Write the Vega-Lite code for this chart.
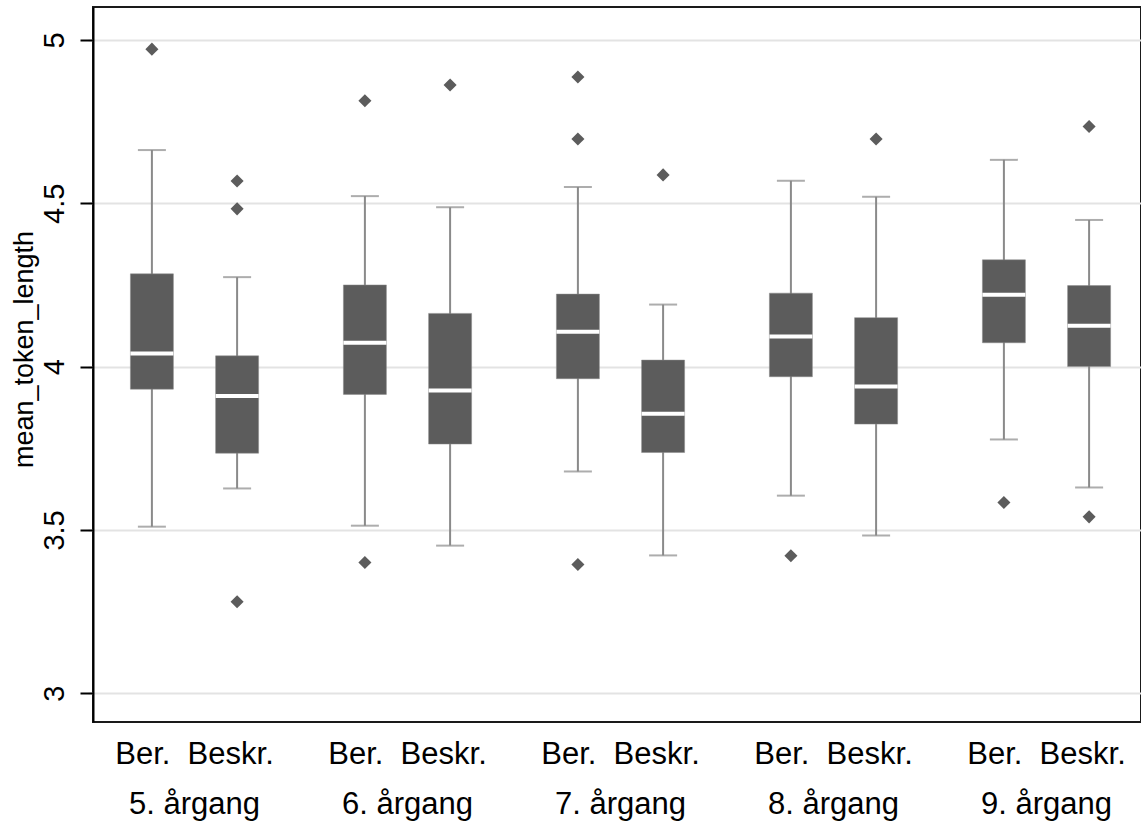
{
  "$schema": "https://vega.github.io/schema/vega-lite/v6.json",
  "width": 1048,
  "height": 715,
  "autosize": "none",
  "padding": {"left": 93, "top": 7, "right": 0, "bottom": 100},
  "background": "white",
  "config": {
    "view": {"stroke": "#1a1a1a", "strokeWidth": 2},
    "font": "Liberation Sans",
    "axis": {"labelFont": "Liberation Sans", "titleFont": "Liberation Sans", "labelColor": "#000000", "titleColor": "#000000"}
  },
  "datasets": {
    "boxes": [
      {"group": "5. årgang", "type": "Ber.", "lower": 3.510, "q1": 3.931, "median": 4.040, "q3": 4.284, "upper": 4.663},
      {"group": "5. årgang", "type": "Beskr.", "lower": 3.627, "q1": 3.735, "median": 3.910, "q3": 4.033, "upper": 4.274},
      {"group": "6. årgang", "type": "Ber.", "lower": 3.513, "q1": 3.915, "median": 4.073, "q3": 4.250, "upper": 4.522},
      {"group": "6. årgang", "type": "Beskr.", "lower": 3.452, "q1": 3.763, "median": 3.927, "q3": 4.163, "upper": 4.488},
      {"group": "7. årgang", "type": "Ber.", "lower": 3.679, "q1": 3.963, "median": 4.107, "q3": 4.222, "upper": 4.550},
      {"group": "7. årgang", "type": "Beskr.", "lower": 3.422, "q1": 3.737, "median": 3.856, "q3": 4.020, "upper": 4.190},
      {"group": "8. årgang", "type": "Ber.", "lower": 3.605, "q1": 3.969, "median": 4.092, "q3": 4.225, "upper": 4.569},
      {"group": "8. årgang", "type": "Beskr.", "lower": 3.483, "q1": 3.824, "median": 3.939, "q3": 4.150, "upper": 4.520},
      {"group": "9. årgang", "type": "Ber.", "lower": 3.777, "q1": 4.073, "median": 4.220, "q3": 4.327, "upper": 4.633},
      {"group": "9. årgang", "type": "Beskr.", "lower": 3.630, "q1": 4.000, "median": 4.125, "q3": 4.248, "upper": 4.449}
    ],
    "outliers": [
      {"group": "5. årgang", "type": "Ber.", "value": 4.972},
      {"group": "5. årgang", "type": "Beskr.", "value": 4.568},
      {"group": "5. årgang", "type": "Beskr.", "value": 4.483},
      {"group": "5. årgang", "type": "Beskr.", "value": 3.280},
      {"group": "6. årgang", "type": "Ber.", "value": 4.814},
      {"group": "6. årgang", "type": "Ber.", "value": 3.400},
      {"group": "6. årgang", "type": "Beskr.", "value": 4.862},
      {"group": "7. årgang", "type": "Ber.", "value": 4.887},
      {"group": "7. årgang", "type": "Ber.", "value": 4.697},
      {"group": "7. årgang", "type": "Ber.", "value": 3.394},
      {"group": "7. årgang", "type": "Beskr.", "value": 4.587},
      {"group": "8. årgang", "type": "Ber.", "value": 3.421},
      {"group": "8. årgang", "type": "Beskr.", "value": 4.697},
      {"group": "9. årgang", "type": "Ber.", "value": 3.584},
      {"group": "9. årgang", "type": "Beskr.", "value": 4.735},
      {"group": "9. årgang", "type": "Beskr.", "value": 3.540}
    ]
  },
  "encoding": {
    "x": {
      "field": "group",
      "type": "nominal",
      "sort": ["5. årgang", "6. årgang", "7. årgang", "8. årgang", "9. årgang"],
      "scale": {"domain": ["5. årgang", "6. årgang", "7. årgang", "8. årgang", "9. årgang"], "range": [-5, 1060], "paddingInner": 0, "paddingOuter": 0},
      "axis": {
        "title": null,
        "orient": "bottom",
        "domain": false,
        "ticks": false,
        "tickSize": 0,
        "grid": false,
        "labelAngle": 0,
        "labelFontSize": 31,
        "labelLineHeight": 50,
        "labelPadding": 17,
        "labelDx": 3,
        "labelBaseline": "top",
        "labelAlign": "center",
        "labelLimit": 400,
        "labelExpr": "['Ber.\u00a0\u00a0Beskr.', datum.label]"
      }
    },
    "xOffset": {
      "field": "type",
      "type": "nominal",
      "scale": {"domain": ["Ber.", "Beskr."], "paddingInner": 0, "paddingOuter": 0.25}
    }
  },
  "layer": [
    {
      "data": {"name": "boxes"},
      "mark": {"type": "rule", "color": "#8a8a8a", "strokeWidth": 2},
      "encoding": {
        "y": {
          "field": "lower",
          "type": "quantitative",
          "scale": {"domain": [2.912, 5.101], "nice": false, "zero": false},
          "axis": {
            "title": "mean_token_length",
            "values": [3, 3.5, 4, 4.5, 5],
            "format": "~g",
            "grid": true,
            "gridColor": "#e3e3e3",
            "gridWidth": 2,
            "domain": true,
            "domainColor": "#000000",
            "domainWidth": 2,
            "ticks": true,
            "tickSize": 13,
            "tickColor": "#000000",
            "tickWidth": 2,
            "labelAngle": -90,
            "labelAlign": "center",
            "labelBaseline": "alphabetic",
            "labelFontSize": 29,
            "labelPadding": 17,
            "titleFontSize": 27,
            "titleFontWeight": "normal",
            "titleAngle": -90,
            "titleAlign": "center",
            "titleBaseline": "alphabetic",
            "titleX": -61,
            "titleY": 342
          }
        },
        "y2": {"field": "upper"}
      }
    },
    {
      "data": {"name": "boxes"},
      "mark": {"type": "tick", "color": "#8a8a8a", "size": 28, "thickness": 2},
      "encoding": {"y": {"field": "lower", "type": "quantitative"}}
    },
    {
      "data": {"name": "boxes"},
      "mark": {"type": "tick", "color": "#8a8a8a", "size": 28, "thickness": 2},
      "encoding": {"y": {"field": "upper", "type": "quantitative"}}
    },
    {
      "data": {"name": "boxes"},
      "mark": {"type": "bar", "color": "#5c5c5c", "size": 43, "stroke": "#8a8a8a", "strokeWidth": 0.5},
      "encoding": {
        "y": {"field": "q1", "type": "quantitative"},
        "y2": {"field": "q3"}
      }
    },
    {
      "data": {"name": "boxes"},
      "mark": {"type": "tick", "color": "#ffffff", "size": 43, "thickness": 4, "opacity": 1},
      "encoding": {"y": {"field": "median", "type": "quantitative"}}
    },
    {
      "data": {"name": "outliers"},
      "mark": {"type": "point", "shape": "diamond", "filled": true, "color": "#5c5c5c", "size": 170, "opacity": 1},
      "encoding": {"y": {"field": "value", "type": "quantitative"}}
    }
  ]
}
